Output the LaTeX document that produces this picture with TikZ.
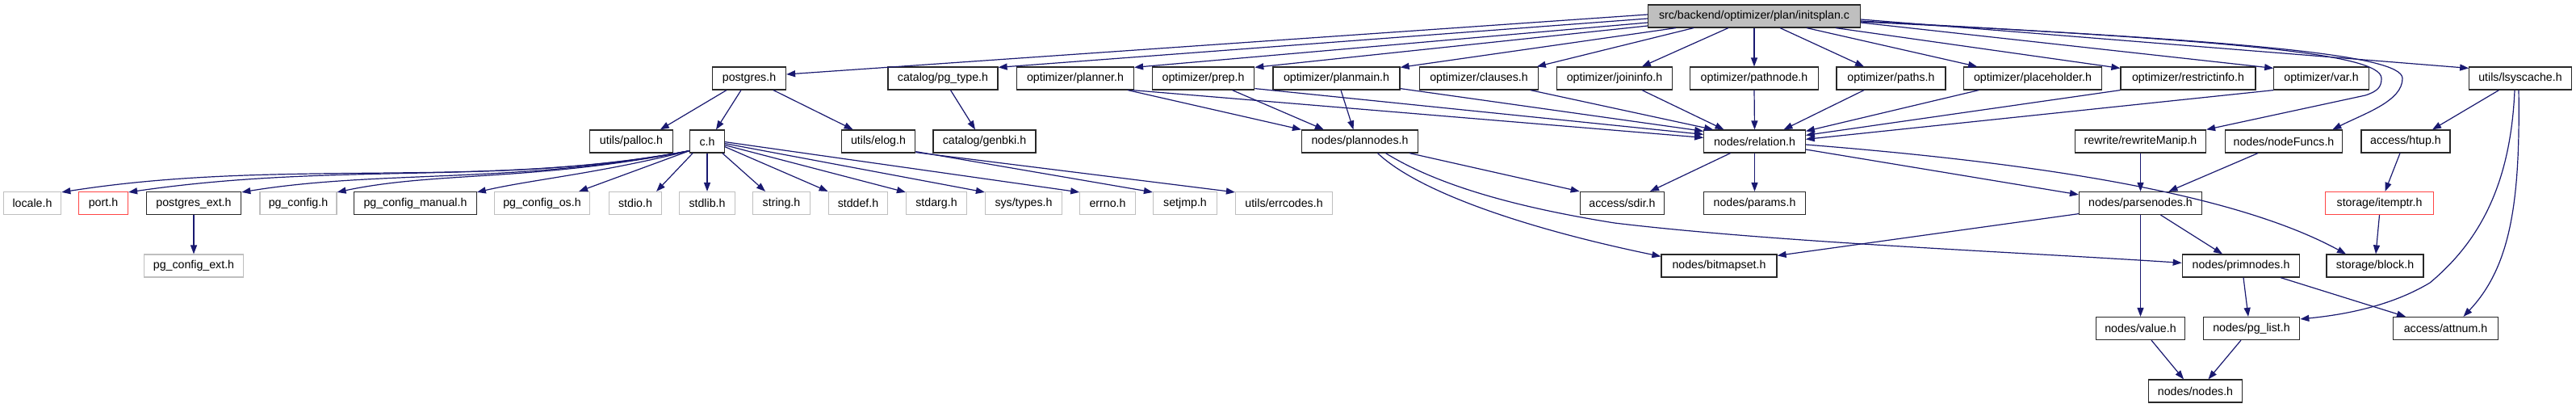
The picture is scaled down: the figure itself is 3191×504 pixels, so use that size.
\documentclass[tikz,border=0pt]{standalone}
\usepackage{fontspec}
\setmainfont{Liberation Sans}
\usetikzlibrary{arrows.meta}
\definecolor{edgec}{RGB}{25,25,112}
\definecolor{graybd}{RGB}{191,191,191}
\definecolor{redbd}{RGB}{255,70,70}
\definecolor{blackbd}{RGB}{40,40,40}
\definecolor{mainfill}{RGB}{191,191,191}
\newcommand{\nodefont}{\fontsize{14.2}{16}\selectfont}
\tikzset{
  box/.style={draw, line width=1.2pt, minimum height=28pt, inner xsep=0pt, inner ysep=0pt, font=\nodefont, text=black},
  nb/.style={box, draw=blackbd},
  gb/.style={box, draw=graybd},
  rb/.style={box, draw=redbd},
  mainb/.style={box, draw=blackbd, fill=mainfill},
  conn/.style={draw=edgec, line width=1.2pt, -{Triangle[length=11pt,width=8pt]}},
}
\begin{document}
\begin{tikzpicture}[x=1pt,y=-1pt]
\useasboundingbox[fill=white] (0,0) rectangle (3191,504);
% row 0
\node[mainb, minimum width=263pt] (main) at (2173,20) {src/backend/optimizer/plan/initsplan.c};
% row 1
\node[nb, minimum width=91pt] (postgres) at (928,97) {postgres.h};
\node[nb, minimum width=136pt] (pgtype) at (1168,97) {catalog/pg\_type.h};
\node[nb, minimum width=145pt] (planner) at (1332,97) {optimizer/planner.h};
\node[nb, minimum width=126.5pt] (prep) at (1490.5,97) {optimizer/prep.h};
\node[nb, minimum width=157pt] (planmain) at (1655.5,97) {optimizer/planmain.h};
\node[nb, minimum width=146.5pt] (clauses) at (1832,97) {optimizer/clauses.h};
\node[nb, minimum width=142.5pt] (joininfo) at (2000,97) {optimizer/joininfo.h};
\node[nb, minimum width=159pt] (pathnode) at (2173,97) {optimizer/pathnode.h};
\node[nb, minimum width=135pt] (paths) at (2342.5,97) {optimizer/paths.h};
\node[nb, minimum width=170.5pt] (placeholder) at (2518,97) {optimizer/placeholder.h};
\node[nb, minimum width=167pt] (restrictinfo) at (2710.5,97) {optimizer/restrictinfo.h};
\node[nb, minimum width=117.5pt] (var) at (2875.5,97) {optimizer/var.h};
\node[nb, minimum width=126.5pt] (lsyscache) at (3122,97) {utils/lsyscache.h};
% row 2
\node[nb, minimum width=102.5pt] (palloc) at (782,175) {utils/palloc.h};
\node[nb, minimum width=42.5pt] (ch) at (876,175) {c.h};
\node[nb, minimum width=91.5pt] (elog) at (1088,175) {utils/elog.h};
\node[nb, minimum width=127pt] (genbki) at (1219.5,175) {catalog/genbki.h};
\node[nb, minimum width=144pt] (plannodes) at (1684.5,175) {nodes/plannodes.h};
\node[nb, minimum width=125.5pt] (relation) at (2173.5,175) {nodes/relation.h};
\node[nb, minimum width=162pt] (rewrite) at (2651.5,175) {rewrite/rewriteManip.h};
\node[nb, minimum width=145.5pt] (nodefuncs) at (2829,175) {nodes/nodeFuncs.h};
\node[nb, minimum width=110pt] (htup) at (2980,175) {access/htup.h};
% row 3
\node[gb, minimum width=71.5pt] (locale) at (40,251.5) {locale.h};
\node[rb, minimum width=61pt] (port) at (128,251.5) {port.h};
\node[nb, minimum width=117.5pt] (postgresext) at (240,251.5) {postgres\_ext.h};
\node[gb, minimum width=95pt] (pgconfig) at (369.5,251.5) {pg\_config.h};
\node[nb, minimum width=151.5pt] (pgmanual) at (514.5,251.5) {pg\_config\_manual.h};
\node[gb, minimum width=118pt] (pgos) at (671.5,251.5) {pg\_config\_os.h};
\node[gb, minimum width=65pt] (stdio) at (787,251.5) {stdio.h};
\node[gb, minimum width=68.5pt] (stdlib) at (876,251.5) {stdlib.h};
\node[gb, minimum width=71pt] (string) at (968,251.5) {string.h};
\node[gb, minimum width=73.5pt] (stddef) at (1063,251.5) {stddef.h};
\node[gb, minimum width=75pt] (stdarg) at (1160,251.5) {stdarg.h};
\node[gb, minimum width=95pt] (systypes) at (1268,251.5) {sys/types.h};
\node[gb, minimum width=68.5pt] (errno) at (1372,251.5) {errno.h};
\node[gb, minimum width=79pt] (setjmp) at (1468,251.5) {setjmp.h};
\node[gb, minimum width=120pt] (errcodes) at (1590.5,251.5) {utils/errcodes.h};
\node[nb, minimum width=104.5pt] (sdir) at (2009.5,251.5) {access/sdir.h};
\node[nb, minimum width=126.5pt] (params) at (2173.5,251.5) {nodes/params.h};
\node[nb, minimum width=152pt] (parsenodes) at (2651.5,251.5) {nodes/parsenodes.h};
\node[rb, minimum width=133.5pt] (itemptr) at (2947.5,251.5) {storage/itemptr.h};
% row 4
\node[gb, minimum width=122.5pt] (pgconfigext) at (240,329) {pg\_config\_ext.h};
\node[nb, minimum width=143pt] (bitmapset) at (2129.5,329) {nodes/bitmapset.h};
\node[nb, minimum width=145.5pt] (primnodes) at (2776,329) {nodes/primnodes.h};
\node[nb, minimum width=120pt] (block) at (2942,329) {storage/block.h};
% row 5
\node[nb, minimum width=110pt] (value) at (2651.5,406.5) {nodes/value.h};
\node[nb, minimum width=119.5pt] (pglist) at (2789,406.5) {nodes/pg\_list.h};
\node[nb, minimum width=129.5pt] (attnum) at (3029.5,406.5) {access/attnum.h};
% row 6
\node[nb, minimum width=116pt] (nodes) at (2719.5,484) {nodes/nodes.h};

% ---- edges from main
\draw[conn] ([shift={(0,-2)}]main.west) -- ([shift={(0,-5)}]postgres.east);
\draw[conn] ([shift={(0,3)}]main.west) -- ([shift={(0,1)}]pgtype.north east);
\draw[conn] ([shift={(0,8)}]main.west) -- ([shift={(0,1)}]planner.north east);
\draw[conn] ([shift={(0,12)}]main.west) -- ([shift={(0,1)}]prep.north east);
\draw[conn] ([shift={(35,0)}]main.south west) -- ([shift={(0,1)}]planmain.north east);
\draw[conn] ([shift={(57,0)}]main.south west) -- ([shift={(-2,0)}]clauses.north east);
\draw[conn] ([shift={(100,0)}]main.south west) -- ([shift={(-38,0)}]joininfo.north east);
\draw[conn] (main.south) -- (pathnode.north);
\draw[conn] ([shift={(-100,0)}]main.south east) -- ([shift={(-33.5,0)}]paths.north);
\draw[conn] ([shift={(-67,0)}]main.south east) -- ([shift={(17,0)}]placeholder.north west);
\draw[conn] ([shift={(-31,0)}]main.south east) -- ([shift={(0,2)}]restrictinfo.north west);
\draw[conn] ([shift={(0,8)}]main.east) -- ([shift={(0,2)}]var.north west);
\draw[conn] ([shift={(0,4)}]main.east) -- ([shift={(0,2)}]lsyscache.north west);
\draw[conn] ([shift={(0,6)}]main.east) .. controls (2750,50) and (2950,65) .. (2950,97)
   .. controls (2950,108) and (2945,113) .. (2930,118) -- (rewrite.north east);
\draw[conn] ([shift={(0,7)}]main.east) .. controls (2780,50) and (2976,68) .. (2976,97)
   .. controls (2976,125) and (2930,140) .. ([shift={(-13,0)}]nodefuncs.north east);

% ---- into relation
\draw[conn] ([shift={(-2,0)}]planner.south east) -- ([shift={(0,10)}]relation.north west);
\draw[conn] ([shift={(0,-2)}]prep.south east) -- ([shift={(0,6)}]relation.north west);
\draw[conn] ([shift={(0,-2)}]planmain.south east) -- ([shift={(0,2)}]relation.north west);
\draw[conn] ([shift={(-10,0)}]clauses.south east) -- ([shift={(12,0)}]relation.north west);
\draw[conn] ([shift={(34,0)}]joininfo.south) -- ([shift={(-38,0)}]relation.north);
\draw[conn] (pathnode.south) -- (relation.north);
\draw[conn] ([shift={(-33.5,0)}]paths.south) -- ([shift={(36,0)}]relation.north);
\draw[conn] ([shift={(19,0)}]placeholder.south west) -- ([shift={(0,2)}]relation.north east);
\draw[conn] (restrictinfo.south west) -- ([shift={(0,7)}]relation.north east);
\draw[conn] (var.south west) -- ([shift={(0,12)}]relation.north east);

% ---- into plannodes
\draw[conn] ([shift={(-8,0)}]planner.south east) -- (plannodes.north west);
\draw[conn] ([shift={(36,0)}]prep.south) -- ([shift={(28,0)}]plannodes.north west);
\draw[conn] ([shift={(5.5,0)}]planmain.south) -- ([shift={(-8,0)}]plannodes.north);

% ---- from relation
\draw[conn] ([shift={(-30,0)}]relation.south) -- ([shift={(34.5,0)}]sdir.north);
\draw[conn] (relation.south) -- (params.north);
\draw[conn] ([shift={(0,10)}]relation.east) -- ([shift={(0,4)}]parsenodes.north west);
\draw[conn] ([shift={(0,4)}]relation.east) .. controls (2500,200) and (2760,235) .. ([shift={(-36,0)}]block.north);

% ---- from plannodes
\draw[conn] ([shift={(-11,0)}]plannodes.south east) -- (sdir.north west);
\draw[conn] ([shift={(22,0)}]plannodes.south) .. controls (1760,240) and (1900,285) .. ([shift={(0,3)}]bitmapset.north west);
\draw[conn] ([shift={(32,0)}]plannodes.south) .. controls (1790,235) and (1900,260) .. (2000,276)
   .. controls (2200,300) and (2500,312) .. ([shift={(0,11)}]primnodes.north west);

% ---- from parsenodes and friends
\draw[conn] ([shift={(0,-1.5)}]parsenodes.south west) -- ([shift={(0,2)}]bitmapset.north east);
\draw[conn] ([shift={(25,0)}]parsenodes.south) -- ([shift={(-23,0)}]primnodes.north);
\draw[conn] (parsenodes.south) -- (value.north);
\draw[conn] (rewrite.south) -- (parsenodes.north);
\draw[conn] ([shift={(-32,0)}]nodefuncs.south) -- ([shift={(35,0)}]parsenodes.north);

% ---- lsyscache
\draw[conn] ([shift={(-26.5,0)}]lsyscache.south) -- ([shift={(33,0)}]htup.north);
\draw[conn] ([shift={(-7,0)}]lsyscache.south) .. controls (3110,230) and (3070,300) .. (3010,350)
   .. controls (2960,380) and (2900,390) .. ([shift={(0,3)}]pglist.north east);
\draw[conn] ([shift={(-2,0)}]lsyscache.south) .. controls (3122,250) and (3110,330) .. ([shift={(22,0)}]attnum.north);
\draw[conn] ([shift={(-7,0)}]htup.south) -- ([shift={(7,0)}]itemptr.north);
\draw[conn] (itemptr.south) -- ([shift={(1,0)}]block.north);
\draw[conn] ([shift={(3,0)}]primnodes.south) -- ([shift={(-4,0)}]pglist.north);
\draw[conn] ([shift={(49,0)}]primnodes.south) -- ([shift={(-49.5,0)}]attnum.north);
\draw[conn] ([shift={(13.5,0)}]value.south) -- ([shift={(-14.5,0)}]nodes.north);
\draw[conn] ([shift={(-13,0)}]pglist.south) -- ([shift={(16,0)}]nodes.north);

% ---- postgres
\draw[conn] ([shift={(-28,0)}]postgres.south) -- ([shift={(-16,0)}]palloc.north east);
\draw[conn] ([shift={(-10,0)}]postgres.south) -- ([shift={(11,0)}]ch.north);
\draw[conn] ([shift={(30,0)}]postgres.south) -- ([shift={(15,0)}]elog.north west);
\draw[conn] ([shift={(9.5,0)}]pgtype.south) -- ([shift={(-11.5,0)}]genbki.north);
\draw[conn] (postgresext.south) -- (pgconfigext.north);

% ---- c.h
\draw[conn] ([shift={(4,0)}]ch.south west) -- ([shift={(-7,0)}]stdio.north east);
\draw[conn] (ch.south) -- (stdlib.north);
\draw[conn] ([shift={(-3,0)}]ch.south east) -- ([shift={(-20,0)}]string.north);
\draw[conn] ([shift={(0,-8)}]ch.south east) -- (stddef.north west);
\draw[conn] ([shift={(0,-10)}]ch.south east) -- ([shift={(0,1)}]stdarg.north west);
\draw[conn] ([shift={(0,-12)}]ch.south east) -- ([shift={(0,1)}]systypes.north west);
\draw[conn] ([shift={(0,-14)}]ch.south east) -- ([shift={(0,1)}]errno.north west);
\draw[conn] ([shift={(0,-2)}]elog.south east) -- ([shift={(0,1)}]setjmp.north west);
\draw[conn] ([shift={(0,-1)}]elog.south east) -- ([shift={(0,1)}]errcodes.north west);
\draw[conn] ([shift={(0,-3)}]ch.south west) .. controls (600,235) and (350,195) .. ([shift={(0,1)}]locale.north east);
\draw[conn] ([shift={(0,-3)}]ch.south west) .. controls (620,230) and (420,200) .. ([shift={(0,1)}]port.north east);
\draw[conn] ([shift={(0,-3)}]ch.south west) .. controls (640,228) and (470,210) .. ([shift={(0,1)}]postgresext.north east);
\draw[conn] ([shift={(0,-3)}]ch.south west) .. controls (660,225) and (540,212) .. ([shift={(0,1)}]pgconfig.north east);
\draw[conn] ([shift={(0,-3)}]ch.south west) .. controls (740,215) and (660,222) .. ([shift={(0,1)}]pgmanual.north east);
\draw[conn] ([shift={(0,-3)}]ch.south west) -- ([shift={(-14,0)}]pgos.north east);
\end{tikzpicture}
\end{document}
